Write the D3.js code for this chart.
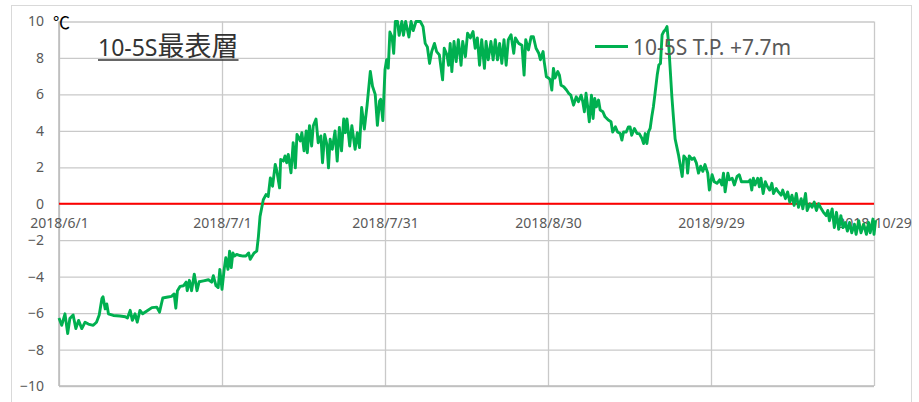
<!DOCTYPE html>
<html>
<head>
<meta charset="utf-8">
<script src="https://cdn.jsdelivr.net/npm/d3@7"></script>
<style>
  body { margin: 0; background: #fff; }
  svg { display: block; }
</style>
</head>
<body>
<svg id="chart" width="919" height="402"></svg>
<script>
// chart values
const startDate = new Date(2018, 5, 1);
const endDate = new Date(2018, 9, 29);
const xTickLabels = ["2018/6/1", "2018/7/1", "2018/7/31", "2018/8/30", "2018/9/29", "2018/10/29"];
const xTickDays = [0, 30, 60, 90, 120, 150];
const yTicks = [-10, -8, -6, -4, -2, 0, 2, 4, 6, 8, 10];
const seriesName = "10-5S T.P. +7.7m";
const titleLatin = "10-5S";
const titleCjk = "最表層";
const unitLabel = "℃";

// days after 2018/6/1
const dayOffsets = [
  0.0, 0.5, 1.1, 1.6, 2.0, 2.6, 3.1, 3.6, 4.2, 4.8, 5.4, 6.3, 6.9, 7.4, 7.9, 8.1, 8.5, 8.8, 9.1, 10.0,
  11.2, 12.2, 12.6, 13.1, 13.5, 14.0, 14.4, 14.9, 15.4, 16.1, 17.1, 18.0, 18.5, 19.1, 19.8, 20.7, 21.2, 21.5, 21.8, 22.3,
  22.9, 23.4, 23.6, 24.0, 24.4, 24.9, 25.4, 25.8, 26.6, 27.5, 28.1, 28.4, 28.9, 29.3, 29.6, 30.0,
  30.4, 30.7, 31.1, 31.4, 31.7, 32.0, 32.3, 32.7, 33.3, 33.9, 34.4, 34.9, 35.2, 35.5, 35.9, 36.4, 36.7, 37.0, 37.6, 38.1,
  38.5, 38.9, 39.3, 39.8, 40.1, 40.6, 40.8, 41.3, 41.6, 41.9, 42.2, 42.7, 43.1, 43.5, 43.8, 44.4, 44.7, 45.1, 45.5, 45.7,
  46.1, 46.5, 46.8, 47.3, 47.7, 48.2, 48.5, 48.9, 49.3, 49.6, 49.9, 50.3, 50.8, 51.2, 51.6, 52.0, 52.4, 52.7, 53.0, 53.5,
  53.9, 54.5, 54.9, 55.3, 55.7, 56.2, 56.7, 57.3, 57.7, 58.2, 58.6, 59.0, 59.2, 59.6, 60.0, 60.3, 60.6, 60.9, 61.3, 61.6,
  61.9, 62.3, 62.6, 63.1, 63.4, 63.8, 64.4, 64.8, 65.2, 65.7, 66.5, 67.0, 67.4, 67.8, 68.2, 68.6, 69.1, 69.5, 70.0, 70.6,
  70.9, 71.4, 71.7, 72.0, 72.3, 72.7, 73.1, 73.5, 74.0, 74.3, 74.8, 75.2, 75.7, 76.2, 76.6, 77.0, 77.4, 77.8, 78.3, 78.6,
  79.0, 79.5, 79.9, 80.3, 80.7, 81.1, 81.5, 81.9, 82.3, 82.7, 83.2, 83.7, 84.0, 84.6, 85.2, 85.6, 85.9, 86.4, 86.9, 87.3,
  87.8, 88.3, 88.6, 89.1, 89.3, 89.7, 90.1, 90.4, 90.7, 91.0, 91.3, 91.8, 92.1, 92.4, 92.9, 93.4, 93.8, 94.2, 94.7, 95.2,
  95.6, 96.1, 96.4, 96.7, 97.0, 97.3, 97.6, 98.0, 98.3, 98.6, 98.9, 99.3, 99.6, 100.1, 100.5, 101.1, 101.6, 101.9, 102.4, 102.8,
  103.3, 103.6, 103.9, 104.4, 104.8, 105.1, 105.4, 105.9, 106.4, 106.8, 107.3, 107.6, 107.9, 108.2, 108.5, 108.8, 109.1, 109.4, 109.7, 110.1,
  110.4, 110.7, 111.0, 111.3, 111.6, 111.9, 112.2, 112.5, 112.8, 113.1, 113.4, 114.0, 114.7, 115.0, 115.5, 115.7, 116.0, 116.5, 116.9, 117.3,
  117.7, 118.1, 118.5, 118.9, 119.4, 119.7, 120.2, 120.6, 121.1, 121.6, 122.0, 122.3, 122.6, 123.1, 123.4, 123.9, 124.3, 124.8, 125.2, 125.6,
  126.0, 126.5, 126.9, 127.2, 127.5, 127.8, 128.1, 128.6, 128.9, 129.2, 129.6, 130.0, 130.4, 130.8, 131.2, 131.5, 132.0, 132.4, 132.9, 133.2,
  133.7, 134.1, 134.5, 134.9, 135.3, 135.7, 136.1, 136.6, 136.9, 137.4, 137.7, 138.2, 138.6, 139.0, 139.4, 139.8, 140.3, 140.7, 141.2, 141.5,
  141.8, 142.3, 142.7, 143.1, 143.5, 143.9, 144.3, 144.7, 145.1, 145.5, 145.9, 146.4, 146.7, 147.2, 147.6, 148.1, 148.6, 149.0, 149.3, 149.8,
  150.0, 150.3
];

// temperature (℃)
const temps = [
  -6.27, -6.67, -6.04, -7.12, -6.3, -6.1, -6.85, -6.4, -6.85, -6.5, -6.6, -6.67, -6.5, -6.1, -5.2, -5.1, -5.77, -5.5, -6.04, -6.13,
  -6.16, -6.2, -6.27, -5.85, -6.4, -6.04, -6.5, -5.85, -6.04, -5.9, -5.7, -5.67, -5.95, -5.17, -5.13, -5.08, -4.95, -5.73, -4.77, -4.53,
  -4.5, -4.3, -4.77, -4.2, -4.77, -3.86, -4.77, -4.28, -4.23, -4.17, -4.3, -3.95, -4.5, -4.6, -3.6, -4.7,
  -3.6, -2.96, -3.6, -2.6, -3.5, -2.7, -2.87, -2.78, -2.84, -2.87, -2.87, -2.7, -3.05, -2.9, -2.7, -2.6, -1.8, -0.7, 0.22, 0.5,
  0.4, 1.42, 0.96, 2.16, 1.79, 0.87, 2.43, 2.34, 2.62, 2.25, 2.71, 1.7, 3.35, 1.97, 3.8, 3.45, 3.9, 2.9, 4.0, 2.8,
  4.28, 3.17, 4.28, 4.65, 3.35, 3.72, 2.25, 3.8, 3.26, 1.97, 3.54, 2.99, 4.0, 2.34, 4.18, 2.9, 4.65, 3.9, 4.65, 3.17,
  4.28, 2.99, 3.9, 3.08, 5.28, 4.1, 5.4, 7.26, 6.45, 6.0, 4.3, 5.64, 5.73, 4.56, 7.35, 7.9, 7.44, 9.42, 9.15, 8.25,
  10, 10, 9.24, 10, 9.24, 10, 9.15, 10, 9.5, 10, 10, 9.72, 8.8, 8.6, 7.7, 8.35, 8.8, 8.35, 8.17, 6.8,
  8.53, 8.17, 7.6, 8.8, 7.25, 8.9, 7.8, 9.0, 7.6, 8.9, 8.07, 9.36, 9.1, 9.45, 8.53, 9.1, 7.6, 9.0, 7.43, 8.9,
  7.9, 8.9, 7.9, 9.0, 7.9, 8.8, 7.7, 9.0, 7.6, 9.0, 9.27, 8.26, 9.1, 8.8, 8.7, 7.06, 9.0, 8.44, 9.17, 9.17,
  8.53, 8.26, 7.9, 8.35, 7.8, 6.97, 6.9, 6.8, 6.24, 7.43, 6.9, 7.25, 7.06, 6.5, 6.42, 6.24, 6.06, 5.96, 5.41, 5.87,
  5.6, 5.96, 5.6, 5.05, 6.06, 5.32, 4.5, 5.96, 4.68, 5.78, 5.32, 5.69, 5.14, 5.05, 4.77, 4.59, 4.5, 3.94, 4.22, 3.94,
  3.85, 3.49, 3.94, 3.94, 4.22, 4.22, 3.76, 4.13, 3.85, 3.85, 3.58, 3.3, 3.85, 3.3, 3.94, 4.13, 4.77, 5.32, 6.06, 7.06,
  7.61, 7.7, 9.27, 9.45, 9.54, 9.72, 8.8, 7.34, 5.87, 4.68, 3.55, 2.71, 1.5, 2.62, 2.43, 1.68, 2.62, 2.43, 2.52, 2.24,
  1.68, 2.06, 1.78, 2.15, 1.68, 0.75, 1.59, 1.21, 1.12, 1.31, 1.03, 1.68, 0.65, 1.68, 1.31, 1.4, 1.03, 1.5, 1.59, 1.21,
  1.21, 1.21, 1.21, 1.31, 0.75, 1.4, 1.03, 1.4, 0.93, 1.4, 0.56, 1.21, 0.93, 0.75, 1.12, 0.56, 0.84, 0.65, 0.47, 0.75,
  0.28, 0.65, 0.09, 0.47, -0.09, 0.56, -0.19, 0.28, -0.28, 0.56, -0.37, 0.0, -0.19, 0.09, -0.37, 0.0, -0.28, -0.47, -0.65, -0.37,
  -0.93, -0.28, -1.31, -0.47, -1.4, -0.65, -1.31, -1.03, -1.5, -1.03, -1.59, -1.12, -1.68, -0.93, -1.59, -1.12, -1.68, -1.03, -1.59, -0.84,
  -1.68, -0.9
];

const DAY = 24 * 60 * 60 * 1000;
const data = dayOffsets.map((d, i) => ({ date: new Date(startDate.getTime() + d * DAY), value: temps[i] }));
const xTickDates = xTickDays.map(d => new Date(startDate.getTime() + d * DAY));

const svg = d3.select("#chart");
const plot = { left: 59, top: 21.5, right: 874, bottom: 386 };
const font = "'Noto Sans', 'DejaVu Sans', sans-serif";

// chart area border
svg.append("rect")
    .attr("x", 11.5).attr("y", 5.5)
    .attr("width", 900).attr("height", 430)
    .attr("fill", "#fff")
    .attr("stroke", "#d9d9d9");

const xScale = d3.scaleTime()
    .domain([startDate, endDate])
    .range([plot.left, plot.right]);
const yScale = d3.scaleLinear()
    .domain([-10, 10])
    .range([plot.bottom, plot.top]);

// vertical gridlines
const xGrid = svg.append("g")
    .attr("transform", `translate(0,${plot.bottom})`)
    .call(d3.axisBottom(xScale).tickValues(xTickDates).tickFormat("")
        .tickSize(-(plot.bottom - plot.top)));
xGrid.select(".domain").remove();
xGrid.selectAll("line").attr("stroke", "#c9c9c9").attr("stroke-width", 1.3);

// horizontal gridlines + labels
const yAxisG = svg.append("g")
    .attr("transform", `translate(${plot.left},0)`)
    .call(d3.axisLeft(yScale).tickValues(yTicks).tickFormat(d3.format("d"))
        .tickSize(-(plot.right - plot.left)).tickPadding(15));
yAxisG.select(".domain").remove();
yAxisG.selectAll("line").attr("stroke", "#c9c9c9").attr("stroke-width", 1.3);
yAxisG.selectAll("text")
    .attr("fill", "#595959")
    .style("font-family", font)
    .style("font-size", "14px");

// axis lines
svg.append("line")
    .attr("x1", plot.left).attr("x2", plot.left)
    .attr("y1", plot.top).attr("y2", plot.bottom)
    .attr("stroke", "#bdbdbd").attr("stroke-width", 1.6);
svg.append("line")
    .attr("x1", plot.left).attr("x2", plot.right)
    .attr("y1", plot.bottom).attr("y2", plot.bottom)
    .attr("stroke", "#bdbdbd").attr("stroke-width", 1.6);

// zero line
svg.append("line")
    .attr("x1", plot.left).attr("x2", plot.right)
    .attr("y1", yScale(0)).attr("y2", yScale(0))
    .attr("stroke", "#ff0000").attr("stroke-width", 2);

// date labels sit just under the zero line
const xLabels = svg.append("g")
    .attr("transform", `translate(0,${yScale(0)})`)
    .call(d3.axisBottom(xScale).tickValues(xTickDates)
        .tickFormat((d, i) => xTickLabels[i])
        .tickSize(0).tickPadding(14));
xLabels.select(".domain").remove();
xLabels.selectAll("text")
    .attr("fill", "#595959")
    .style("font-family", font)
    .style("font-size", "14px");

// the series
const line = d3.line()
    .x(d => xScale(d.date))
    .y(d => yScale(d.value));

svg.append("path")
    .datum(data)
    .attr("fill", "none")
    .attr("stroke", "#00b050")
    .attr("stroke-width", 2.9)
    .attr("stroke-linejoin", "round")
    .attr("d", line);

// unit
svg.append("text")
    .attr("x", 53).attr("y", 29)
    .attr("fill", "#000")
    .style("font-family", "'Noto Sans CJK JP', sans-serif")
    .style("font-size", "17px")
    .text(unitLabel);

// title
const title = svg.append("text")
    .attr("x", 98).attr("y", 56)
    .attr("fill", "#333");
title.append("tspan")
    .style("font-family", font)
    .style("font-size", "23px")
    .text(titleLatin);
title.append("tspan")
    .style("font-family", "'Noto Sans CJK JP', sans-serif")
    .style("font-size", "27px")
    .text(titleCjk);
const tb = title.node().getBBox();
svg.append("line")
    .attr("x1", tb.x).attr("x2", tb.x + tb.width)
    .attr("y1", 60).attr("y2", 60)
    .attr("stroke", "#333").attr("stroke-width", 1.5);

// legend
svg.append("line")
    .attr("x1", 595).attr("x2", 628)
    .attr("y1", 46.5).attr("y2", 46.5)
    .attr("stroke", "#00b050").attr("stroke-width", 2.9);
svg.append("text")
    .attr("x", 633).attr("y", 54.5)
    .attr("fill", "#595959")
    .style("font-family", font)
    .style("font-size", "21px")
    .text(seriesName);
</script>
</body>
</html>
